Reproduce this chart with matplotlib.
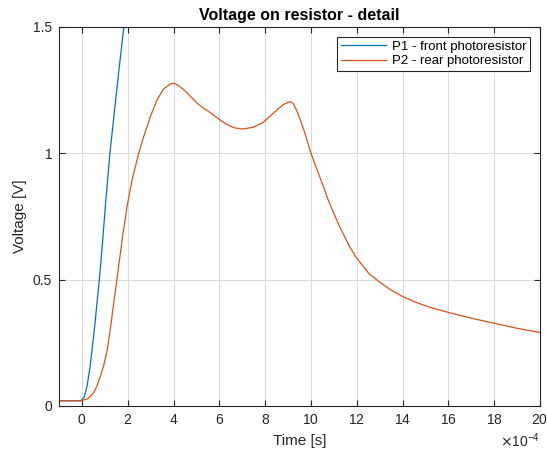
import numpy as np
import matplotlib
matplotlib.use("Agg")
import matplotlib.pyplot as plt
from matplotlib.ticker import ScalarFormatter

# time in units of 1e-4 s, voltage in V
t_p1 = [-1.0, -0.5, -0.05, 0.1, 0.22, 0.33, 0.44, 0.55, 0.67, 0.78, 0.9, 1.03,
        1.22, 1.47, 1.64, 1.83, 2.1]
v_p1 = [0.02, 0.02, 0.02, 0.035, 0.077, 0.14, 0.22, 0.31, 0.42, 0.52, 0.65, 0.8,
        1.0, 1.21, 1.35, 1.5, 1.72]

t_p2 = [-1.0, -0.5, -0.05, 0.25, 0.5, 0.65, 0.8, 0.95, 1.1, 1.25, 1.39, 1.51, 1.76,
        1.97, 2.2, 2.48, 2.70, 2.99, 3.28, 3.57, 3.86, 4.0, 4.15, 4.43, 4.73, 5.02,
        5.31, 5.6, 6.0, 6.32, 6.68, 7.04, 7.48, 7.91, 8.35, 8.78, 9.07, 9.22, 9.4,
        9.7, 10.0, 10.38, 10.81, 11.25, 11.68, 11.97, 12.55, 13.0, 13.5, 14.0, 14.5,
        15.0, 15.5, 16.0, 17.0, 18.0, 19.0, 20.0]
v_p2 = [0.02, 0.02, 0.02, 0.028, 0.05, 0.078, 0.116, 0.16, 0.22, 0.31, 0.41, 0.49, 0.66,
        0.79, 0.9, 1.0, 1.067, 1.146, 1.212, 1.255, 1.274, 1.277, 1.272, 1.253, 1.226, 1.199,
        1.178, 1.161, 1.134, 1.114, 1.1, 1.096, 1.103, 1.122, 1.158, 1.192, 1.205, 1.198, 1.165,
        1.09, 1.0, 0.908, 0.802, 0.71, 0.632, 0.588, 0.522, 0.49, 0.458, 0.433, 0.413,
        0.396, 0.382, 0.37, 0.347, 0.327, 0.307, 0.29]

labels = ['P1 - front photoresistor', 'P2 - rear photoresistor']
colors = ['#0072BD', '#D95319']

plt.rcParams['font.family'] = ['Liberation Sans', 'DejaVu Sans']
dark = '#262626'

fig = plt.figure(figsize=(5.47, 4.57), dpi=100)
ax = fig.add_axes([0.108, 0.112, 0.879, 0.829])

ax.plot(np.array(t_p1) * 1e-4, v_p1, color=colors[0], linewidth=0.9, label=labels[0])
ax.plot(np.array(t_p2) * 1e-4, v_p2, color=colors[1], linewidth=0.9, label=labels[1])

ax.set_xlim(-1e-4, 20e-4)
ax.set_ylim(0, 1.5)
ax.set_xticks(np.arange(0, 21, 2) * 1e-4)
ax.set_yticks([0, 0.5, 1, 1.5])
ax.set_yticklabels(['0', '0.5', '1', '1.5'])

fmt = ScalarFormatter(useMathText=True)
fmt.set_powerlimits((-4, -4))
ax.xaxis.set_major_formatter(fmt)
ax.xaxis.get_offset_text().set_fontsize(10)
ax.xaxis.get_offset_text().set_color(dark)

ax.grid(True, color='#dcdcdc', linewidth=0.8)
ax.set_axisbelow(True)
ax.tick_params(direction='in', top=True, right=True, length=4, width=0.8,
               labelsize=10, colors=dark, pad=5)
for s in ax.spines.values():
    s.set_color(dark)
    s.set_linewidth(0.8)

ax.set_title('Voltage on resistor - detail', fontsize=11.5, fontweight='bold', color='black', pad=5)
ax.set_xlabel('Time [s]', fontsize=11, color=dark, labelpad=5)
ax.set_ylabel('Voltage [V]', fontsize=11, color=dark, labelpad=4)

leg = ax.legend(loc='upper right', fontsize=9.5, fancybox=False, framealpha=1,
                edgecolor=dark, handlelength=3.4, handletextpad=0.4,
                borderaxespad=0.75, borderpad=0.3, labelspacing=0.15)
leg.get_frame().set_linewidth(0.8)

fig.savefig('out.png', dpi=100)
